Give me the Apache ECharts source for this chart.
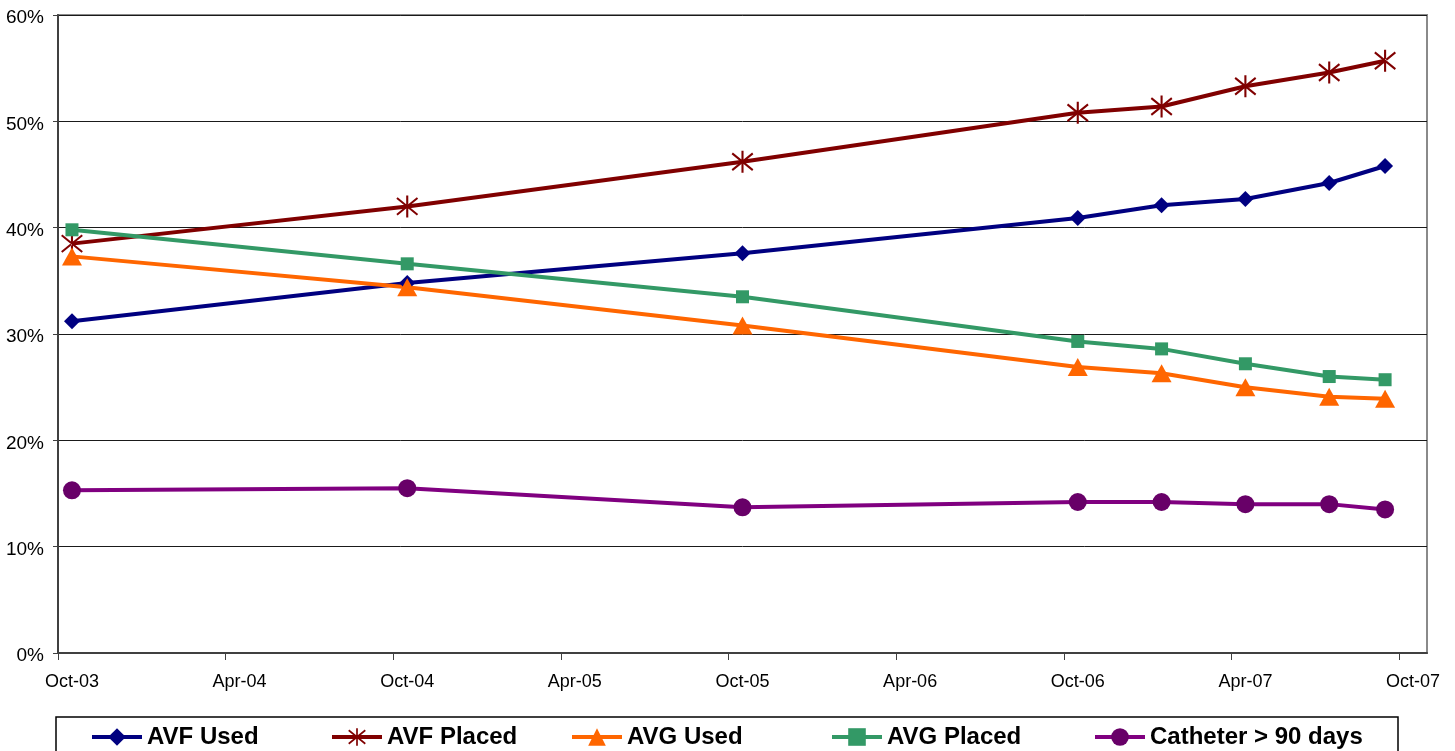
<!DOCTYPE html>
<html>
<head>
<meta charset="utf-8">
<script src="https://cdn.jsdelivr.net/npm/echarts@6/dist/echarts.min.js"></script>
<style>html,body{margin:0;padding:0;background:#fff;}#c{width:1455px;height:751px;}</style>
</head>
<body>
<div id="c"></div>
<script>
// ---- data ----
const dates = ['2003-10','2004-10','2005-10','2006-10','2007-01','2007-04','2007-07','2007-09'];
const avfUsed     = [31.2, 34.8, 37.6, 40.9, 42.1, 42.7, 44.2, 45.8];
const avfPlaced   = [38.5, 42.0, 46.2, 50.8, 51.4, 53.3, 54.6, 55.7];
const avgUsed     = [37.3, 34.4, 30.8, 26.9, 26.3, 25.0, 24.1, 23.9];
const avgPlaced   = [39.8, 36.6, 33.5, 29.3, 28.6, 27.2, 26.0, 25.7];
const catheter    = [15.3, 15.5, 13.7, 14.2, 14.2, 14.0, 14.0, 13.5];
const seriesNames = ['AVF Used','AVF Placed','AVG Used','AVG Placed','Catheter > 90 days'];
const xTickLabels = ['Oct-03','Apr-04','Oct-04','Apr-05','Oct-05','Apr-06','Oct-06','Apr-07','Oct-07'];
const yTickLabels = ['0%','10%','20%','30%','40%','50%','60%'];

// month index from Oct-03, positioned mid-month
function monthPos(s){
  const [y,m] = s.split('-').map(Number);
  return (y-2003)*12 + (m-10) + 0.5;
}
const xs = dates.map(monthPos);
const pts = arr => arr.map((v,i)=>[xs[i], v]);

const star = 'path://M-1,-10.5L1,-10.5L1,10.5L-1,10.5Z' +
  'M-10.4,-7.2L-9.2,-8.8L10.4,7.2L9.2,8.8Z' +
  'M-10.4,7.2L-9.2,8.8L10.4,-7.2L9.2,-8.8Z';

const font = 'Liberation Sans, Arial, sans-serif';
const defs = [
  {data: avfUsed,   color:'#000080', mcolor:'#000080', symbol:'diamond', size:[16,16]},
  {data: avfPlaced, color:'#800000', mcolor:'#800000', symbol:star, size:22},
  {data: avgUsed,   color:'#FF6600', mcolor:'#FF6600', symbol:'triangle', size:[20,18]},
  {data: avgPlaced, color:'#339966', mcolor:'#339966', symbol:'rect', size:13},
  {data: catheter,  color:'#800080', mcolor:'#680068', symbol:'circle', size:18}
];
const legendLeft = [90, 330, 570, 830, 1093];

const chart = echarts.init(document.getElementById('c'));
chart.setOption({
  animation:false,
  backgroundColor:'#fff',
  grid:{left:58, right:28, top:15, bottom:98, show:true, borderColor:'#8a8a8a', borderWidth:2},
  xAxis:{
    type:'value', min:0, max:49,
    axisLine:{show:true, onZero:false, lineStyle:{color:'#404040', width:2}},
    axisTick:{show:true, length:7, lineStyle:{color:'#404040', width:1}, customValues:[0,6,12,18,24,30,36,42,48]},
    axisLabel:{
      customValues:[0.5,6.5,12.5,18.5,24.5,30.5,36.5,42.5,48.5],
      formatter:v=>xTickLabels[Math.round((v-0.5)/6)],
      fontSize:18, fontFamily:font, color:'#000', margin:20
    },
    splitLine:{show:false}
  },
  yAxis:{
    type:'value', min:0, max:60, interval:10,
    axisLine:{show:true, lineStyle:{color:'#404040', width:2}},
    axisTick:{show:true, length:5, lineStyle:{color:'#404040'}},
    axisLabel:{
      formatter:v=>'{a|'+yTickLabels[Math.round(v/10)]+'}',
      rich:{a:{fontSize:19, fontFamily:font, color:'#000', padding:[6,0,0,0]}},
      fontSize:19, fontFamily:font, color:'#000', margin:14
    },
    splitLine:{show:true, lineStyle:{color:'#1a1a1a', width:1}}
  },
  legend: defs.map((d,i)=>({
    data:[seriesNames[i]], left:legendLeft[i], top:725, padding:0,
    itemWidth:50, itemHeight:22, itemGap:5,
    lineStyle:{width:4},
    textStyle:{fontSize:24, fontWeight:'bold', fontFamily:font, color:'#000', padding:[4,0,0,0]}
  })),
  graphic:[{type:'rect', shape:{x:56, y:717, width:1342, height:60}, style:{fill:'none', stroke:'#000', lineWidth:1.5}, z:-1}],
  series: defs.map((d,i)=>({
    name:seriesNames[i], type:'line', data:pts(d.data),
    symbol:d.symbol, symbolSize:d.size, symbolKeepAspect:true,
    lineStyle:{color:d.color, width:4},
    itemStyle:{color:d.mcolor, borderWidth:0},
    emphasis:{disabled:true}
  }))
});
</script>
</body>
</html>
